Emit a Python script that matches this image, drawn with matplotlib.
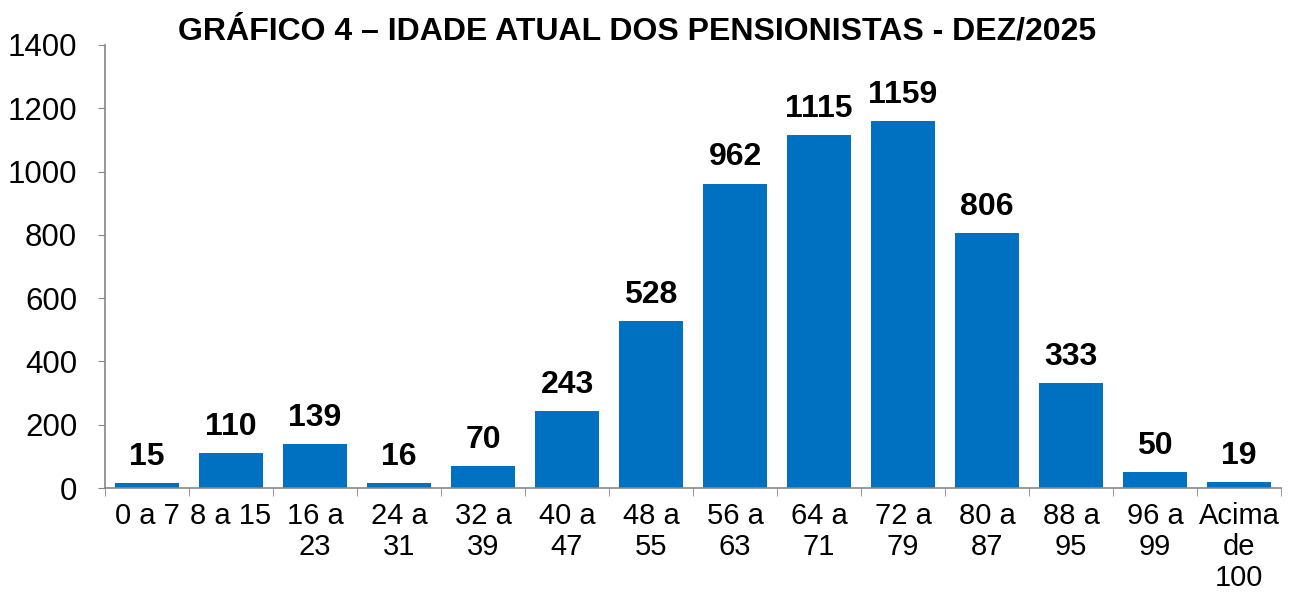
import numpy as np
import matplotlib
matplotlib.use('Agg')
import matplotlib.pyplot as plt

plt.rcParams['font.family'] = ['Liberation Sans', 'DejaVu Sans']

categorias = ['0 a 7', '8 a 15', '16 a\n23', '24 a\n31', '32 a\n39', '40 a\n47', '48 a\n55',
              '56 a\n63', '64 a\n71', '72 a\n79', '80 a\n87', '88 a\n95', '96 a\n99', 'Acima\nde\n100']
valores = [15, 110, 139, 16, 70, 243, 528, 962, 1115, 1159, 806, 333, 50, 19]
yticks = [0, 200, 400, 600, 800, 1000, 1200, 1400]

fig = plt.figure(figsize=(12.95, 6.03), dpi=100)
ax = fig.add_axes([105/1295, 115/603, 1176/1295, 443/603])

x = np.arange(len(valores))
bars = ax.bar(x, valores, width=0.76, color='#0070C0')

for xi, v in zip(x, valores):
    ax.annotate(str(v), (xi, v), xytext=(0, 8), textcoords='offset points',
                ha='center', va='bottom', fontsize=23, fontweight='bold')

ax.set_xlim(-0.5, len(valores) - 0.5)
ax.set_ylim(0, 1400)
ax.set_yticks(yticks)
ax.tick_params(axis='y', labelsize=22.5, length=5, color='#868686', pad=15)
ax.set_xticks(x)
ax.set_xticklabels(categorias, fontsize=21, linespacing=1.15)
ax.tick_params(axis='x', length=0, pad=10)
ax.set_xticks(np.arange(len(valores) + 1) - 0.5, minor=True)
ax.tick_params(axis='x', which='minor', length=6, color='#868686')

for s in ['top', 'right']:
    ax.spines[s].set_visible(False)
for s in ['left', 'bottom']:
    ax.spines[s].set_color('#868686')
    ax.spines[s].set_linewidth(1.2)

fig.text(637/1295, 1 - 32/603, 'GRÁFICO 4 – IDADE ATUAL DOS PENSIONISTAS - DEZ/2025',
         ha='center', va='center', fontsize=23, fontweight='bold')

fig.savefig('out.png', dpi=100)
